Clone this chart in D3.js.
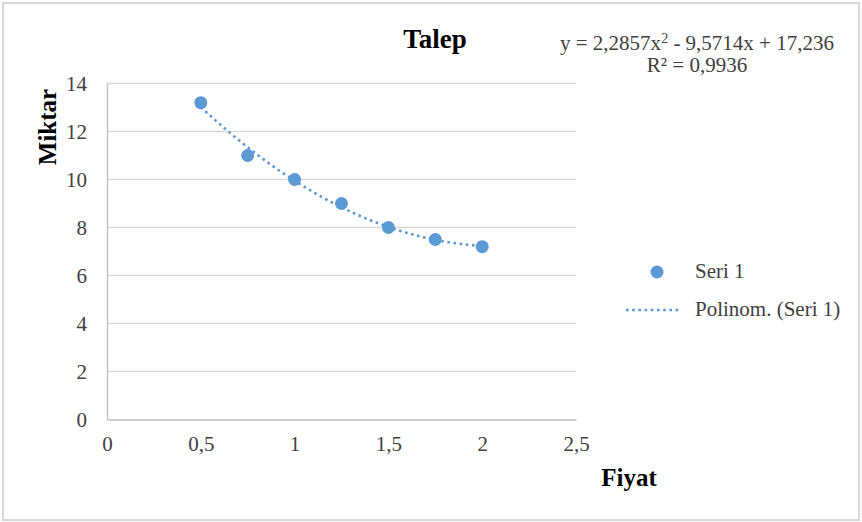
<!DOCTYPE html>
<html><head><meta charset="utf-8">
<script src="https://cdn.jsdelivr.net/npm/d3@7"></script>
<style>body{margin:0;background:#fff}svg{display:block}</style>
</head><body>
<script>
const fiyat = [0.5, 0.75, 1, 1.25, 1.5, 1.75, 2];
const miktar = [13.2, 11, 10, 9, 8, 7.5, 7.2];
const xTicks = [0, 0.5, 1, 1.5, 2, 2.5];
const yTicks = [0, 2, 4, 6, 8, 10, 12, 14];
const title = "Talep";
const xTitle = "Fiyat";
const yTitle = "Miktar";
const seriesName = "Seri 1";
const trendName = "Polinom. (Seri 1)";

const W = 862, H = 522;
const color = "#5b9bd5";
const font = "'Liberation Serif','Times New Roman',serif";
const fs = 21;
const fmt = v => String(v).replace(".", ",");

// least-squares quadratic fit
function polyfit2(xs, ys) {
  let s = [0,0,0,0,0], t = [0,0,0];
  xs.forEach((x,i)=>{ let p=1; for(let k=0;k<5;k++){s[k]+=p; if(k<3) t[k]+=p*ys[i]; p*=x;} });
  const A = [[s[0],s[1],s[2],t[0]],[s[1],s[2],s[3],t[1]],[s[2],s[3],s[4],t[2]]];
  for (let i=0;i<3;i++){ for(let j=i+1;j<3;j++){ const f=A[j][i]/A[i][i]; for(let k=i;k<4;k++) A[j][k]-=f*A[i][k]; } }
  const c=[0,0,0];
  for (let i=2;i>=0;i--){ let v=A[i][3]; for(let k=i+1;k<3;k++) v-=A[i][k]*c[k]; c[i]=v/A[i][i]; }
  return c;
}
const coef = polyfit2(fiyat, miktar);
const f = x => coef[0] + coef[1]*x + coef[2]*x*x;
const mean = d3.mean(miktar);
const ssTot = d3.sum(miktar, y => (y-mean)**2);
const ssRes = d3.sum(fiyat, (x,i) => (miktar[i]-f(x))**2);
const r2 = 1 - ssRes/ssTot;

const svg = d3.select("body").append("svg").attr("width", W).attr("height", H);
svg.append("rect").attr("x",3).attr("y",3).attr("width",W-6).attr("height",H-5)
  .attr("fill","#fff").attr("stroke","#d9d9d9").attr("stroke-width",2);

const x = d3.scaleLinear().domain([0, 2.5]).range([107, 576]);
const y = d3.scaleLinear().domain([0, 14]).range([419.5, 83.5]);

svg.append("g").selectAll("line").data(yTicks.filter(v=>v>0)).join("line")
  .attr("x1", x(0)).attr("x2", x(2.5)).attr("y1", d=>y(d)).attr("y2", d=>y(d))
  .attr("stroke","#d9d9d9").attr("stroke-width",1.3);

const yAxis = svg.append("g").attr("transform", `translate(${x(0)},0)`)
  .call(d3.axisLeft(y).tickValues(yTicks).tickSize(0).tickPadding(20).tickFormat(fmt));
const xAxis = svg.append("g").attr("transform", `translate(0,${y(0)})`)
  .call(d3.axisBottom(x).tickValues(xTicks).tickSize(0).tickPadding(17).tickFormat(fmt));
[xAxis, yAxis].forEach(g => {
  g.attr("font-family", font).attr("font-size", fs);
  g.select(".domain").attr("stroke","#bfbfbf").attr("stroke-width",1.3);
  g.selectAll("text").attr("font-family", font).attr("font-size", fs).attr("fill","#404040");
});
yAxis.selectAll("text").attr("dy","0.35em");

const tx = d3.range(fiyat[0], fiyat[fiyat.length-1] + 1e-9, 0.01);
svg.append("path").datum(tx)
  .attr("d", d3.line().x(d=>x(d)).y(d=>y(f(d))))
  .attr("fill","none").attr("stroke",color).attr("stroke-width",2.6)
  .attr("stroke-dasharray","2.6,3.6");

svg.append("g").selectAll("circle").data(fiyat).join("circle")
  .attr("cx", d=>x(d)).attr("cy", (d,i)=>y(miktar[i])).attr("r", 6.5)
  .attr("fill", color);

svg.append("text").attr("x",435).attr("y",48).attr("text-anchor","middle")
  .attr("font-family",font).attr("font-weight","bold").attr("font-size",27).attr("fill","#000").text(title);
svg.append("text").attr("x",629).attr("y",486).attr("text-anchor","middle")
  .attr("font-family",font).attr("font-weight","bold").attr("font-size",25).attr("fill","#000").text(xTitle);
svg.append("text").attr("transform","translate(56,127) rotate(-90)").attr("text-anchor","middle")
  .attr("font-family",font).attr("font-weight","bold").attr("font-size",25).attr("fill","#000").text(yTitle);

const n4 = v => Math.abs(v).toFixed(4).replace(".", ",");
const n3 = v => Math.abs(v).toFixed(3).replace(".", ",");
const eq = svg.append("text").attr("x",697).attr("y",50).attr("text-anchor","middle")
  .attr("font-family",font).attr("font-size",fs).attr("fill","#404040");
eq.append("tspan").text(`y = ${n4(coef[2])}x`);
eq.append("tspan").attr("dy",-7).attr("font-size",14).text("2");
eq.append("tspan").attr("dy",7).text(` ${coef[1]<0?"-":"+"} ${n4(coef[1])}x ${coef[0]<0?"-":"+"} ${n3(coef[0])}`);
svg.append("text").attr("x",697).attr("y",72).attr("text-anchor","middle")
  .attr("font-family",font).attr("font-size",fs).attr("fill","#404040")
  .text(`R² = ${n4(r2)}`);

svg.append("circle").attr("cx",657).attr("cy",272).attr("r",6.5).attr("fill",color);
svg.append("text").attr("x",695).attr("y",278).attr("font-family",font).attr("font-size",fs)
  .attr("fill","#404040").text(seriesName);
svg.append("line").attr("x1",626).attr("x2",681).attr("y1",310).attr("y2",310)
  .attr("stroke",color).attr("stroke-width",2.6).attr("stroke-dasharray","2.6,3.6");
svg.append("text").attr("x",695).attr("y",316).attr("font-family",font).attr("font-size",fs)
  .attr("fill","#404040").text(trendName);
</script>
</body></html>
